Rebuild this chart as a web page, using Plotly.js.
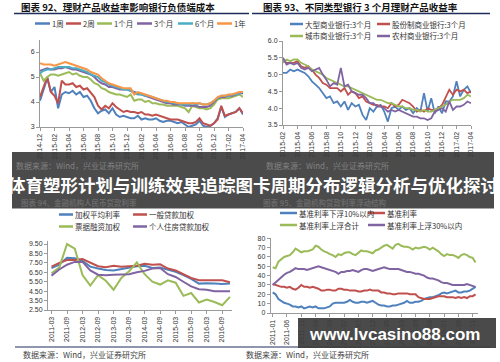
<!DOCTYPE html>
<html><head><meta charset="utf-8">
<script src="https://cdn.plot.ly/plotly-3.0.1.min.js"></script>
<style>html,body{margin:0;padding:0;background:#fff}#chart{width:500px;height:362px}</style>
</head><body><div id="chart"></div>
<script>
// ---------- Chart 1: 理财产品收益率 (semi-monthly samples from 2014-12) ----------
const c1Names = ['1周','2周','1个月','3个月','6个月','1年'];
const c1Colors = ['#4F81BD','#C0504D','#9BBB59','#8064A2','#4BACC6','#F79646'];
const c1Ticks = ['2014-12','2015-02','2015-04','2015-06','2015-08','2015-10','2015-12','2016-02','2016-04','2016-06','2016-08','2016-10','2016-12','2017-02','2017-04'];
const c1Step = 0.5; // months per sample
const c1W1 = [4.05,4.5,4.95,4.4,4.6,3.75,4.3,4.4,4.35,4.45,4.3,4.4,4.2,4.25,4.05,3.75,3.55,3.65,3.7,3.55,3.75,3.5,3.4,3.45,3.4,3.35,3.35,3.45,3.3,3.35,3.3,3.3,3.35,3.25,3.2,3.25,3.25,3.2,3.15,3.2,3.1,3.0,3.05,3.1,3.25,3.05,3.0,3.05,3.15,3.35,3.8,3.4,3.5,3.55,3.6,3.75,3.5];
const c1W2 = [4.2,4.6,5.0,4.4,4.25,3.95,4.85,4.7,4.7,4.75,4.6,4.65,4.5,4.55,4.35,4.2,3.85,3.7,3.85,3.75,3.95,3.8,3.7,3.6,3.65,3.6,3.6,3.55,3.6,3.5,3.5,3.45,3.5,3.45,3.4,3.35,3.3,3.3,3.3,3.25,3.2,3.15,3.15,3.2,3.35,3.15,3.1,3.05,3.15,3.3,3.85,3.45,3.5,3.55,3.6,3.75,3.55];
const c1M1 = [5.15,4.85,5.0,5.1,5.1,5.05,5.1,5.15,5.2,5.1,5.15,5.05,5.0,5.0,4.9,4.75,4.7,4.55,4.5,4.4,4.35,4.3,4.3,4.25,4.2,4.3,4.05,4.1,4.1,4.0,4.05,3.95,3.95,3.9,3.9,3.85,3.85,3.85,3.85,3.8,3.75,3.6,3.85,3.8,3.75,3.75,3.7,3.75,3.9,4.1,4.15,4.15,4.15,4.2,4.25,4.3,4.2];
const c1M3 = [5.25,5.3,5.35,5.3,5.3,5.35,5.35,5.4,5.35,5.3,5.3,5.25,5.2,5.15,5.1,5.0,4.85,4.75,4.7,4.6,4.6,4.55,4.5,4.5,4.5,4.45,4.4,4.35,4.3,4.25,4.2,4.15,4.1,4.05,4.0,3.95,3.95,3.9,3.9,3.9,3.85,3.85,3.85,3.85,3.8,3.8,3.8,3.85,4.0,4.15,4.2,4.2,4.25,4.25,4.3,4.35,4.35];
const c1M6 = [5.15,5.25,5.3,5.3,5.35,5.4,5.4,5.4,5.4,5.35,5.35,5.3,5.25,5.2,5.1,5.05,5.0,4.85,4.8,4.7,4.65,4.6,4.55,4.5,4.5,4.45,4.35,4.3,4.3,4.25,4.25,4.2,4.15,4.1,4.05,4.0,4.0,3.95,3.95,3.9,3.9,3.9,3.95,3.9,3.95,3.9,3.9,3.95,4.05,4.15,4.25,4.25,4.25,4.3,4.3,4.35,4.4];
const c1Y1 = [5.55,5.5,5.5,5.5,5.45,5.5,5.55,5.6,5.55,5.5,5.45,5.4,5.35,5.3,5.2,5.15,5.1,4.95,4.85,4.75,4.7,4.65,4.6,4.55,4.55,4.55,4.3,4.4,4.35,4.3,4.25,4.2,4.15,4.1,4.05,4.05,4.0,4.0,3.95,3.95,3.95,3.95,3.95,3.95,3.95,3.9,3.9,3.95,4.05,4.2,4.25,4.25,4.3,4.3,4.35,4.4,4.4];
const c1Series = [c1W1,c1W2,c1M1,c1M3,c1M6,c1Y1];

// ---------- Chart 2: 不同类型银行3个月理财产品收益率 (semi-monthly from 2015-02) ----------
const c2Names = ['大型商业银行:3个月','股份制商业银行:3个月','城市商业银行:3个月','农村商业银行:3个月'];
const c2Colors = ['#4F81BD','#C0504D','#9BBB59','#8064A2'];
const c2Ticks = ['2015-02','2015-04','2015-06','2015-08','2015-10','2015-12','2016-02','2016-04','2016-06','2016-08','2016-10','2016-12','2017-02','2017-04'];
const c2Step = 0.5;
const c2Big = [5.05,5.05,5.15,5.1,5.15,5.1,5.05,4.95,4.8,4.7,4.6,4.45,4.3,4.35,4.15,4.2,4.05,4.2,3.95,4.15,4.05,4.1,3.8,3.65,4.0,3.9,4.05,4.1,3.9,3.6,4.0,4.05,3.95,4.05,3.95,4.0,3.85,4.0,3.9,4.45,3.9,4.3,3.85,4.05,3.85,4.2,4.2,4.35,4.8,4.35,4.55,4.65,4.45];
const c2Joint = [5.4,5.35,5.35,5.35,5.4,5.25,5.2,5.25,5.15,5.0,4.9,4.75,4.7,4.6,4.6,4.6,4.5,4.6,4.4,4.5,4.45,4.3,4.35,4.2,4.15,4.1,4.1,4.05,4.05,4.0,4.15,4.05,4.1,4.25,4.2,4.15,4.05,3.9,3.95,3.9,4.0,3.95,3.95,4.0,4.1,4.35,4.55,4.4,4.55,4.5,4.55,4.45,4.5];
const c2City = [5.35,5.45,5.4,5.45,5.45,5.35,5.3,5.25,5.15,5.1,5.05,5.0,4.9,4.85,4.8,4.75,4.7,4.65,4.65,4.6,4.55,4.5,4.45,4.4,4.35,4.3,4.25,4.25,4.2,4.15,4.15,4.1,4.05,4.05,4.0,4.0,3.95,3.95,3.9,3.95,3.9,3.9,3.95,4.0,4.05,4.1,4.2,4.25,4.25,4.25,4.3,4.4,4.35];
const c2Rural = [5.5,5.3,5.35,5.3,5.35,5.2,5.15,5.2,5.1,5.15,5.2,5.0,4.85,4.65,4.75,4.7,5.2,4.65,4.7,4.5,4.45,4.4,4.4,4.3,4.15,4.15,4.05,4.05,4.0,3.9,3.95,3.9,3.95,3.9,3.85,3.8,3.75,3.75,3.7,3.7,3.65,3.7,3.9,3.95,4.0,3.9,4.2,3.95,4.05,4.05,4.1,4.2,4.15];
const c2Series = [c2Big,c2Joint,c2City,c2Rural];

// ---------- Chart 3: 金融机构人民币贷款利率 (quarterly) ----------
const c3Names = ['加权平均利率','一般贷款加权','票据融资加权','个人住房贷款加权'];
const c3Colors = ['#4F81BD','#C0504D','#9BBB59','#8064A2'];
const c3Quarters = ['2011-03','2011-06','2011-09','2011-12','2012-03','2012-06','2012-09','2012-12','2013-03','2013-06','2013-09','2013-12','2014-03','2014-06','2014-09','2014-12','2015-03','2015-06','2015-09','2015-12','2016-03','2016-06','2016-09','2016-12'];
const c3Avg = [6.95,7.3,8.05,8.0,7.7,7.1,6.9,6.75,6.7,6.85,7.0,7.15,7.2,6.95,7.0,6.75,6.55,6.2,5.8,5.3,5.35,5.3,5.25,5.3];
const c3General = [7.1,7.5,7.8,7.8,7.9,7.5,7.15,7.05,7.2,7.1,7.15,7.2,7.4,7.3,7.35,6.9,6.7,6.3,5.9,5.65,5.65,5.6,5.65,5.45];
const c3Bill = [6.4,7.0,9.5,9.0,6.2,5.1,6.2,5.6,4.65,5.9,6.6,7.55,6.3,5.5,5.2,5.65,5.4,4.0,4.3,3.3,3.6,3.35,3.0,3.9];
const c3House = [6.15,6.8,7.3,7.6,7.6,6.7,6.25,6.2,6.25,6.25,6.3,6.5,6.65,6.9,6.95,6.3,6.0,5.5,5.0,4.7,4.65,4.5,4.5,4.5];
const c3Series = [c3Avg,c3General,c3Bill,c3House];

// ---------- Chart 4: 金融机构贷款利率浮动结构 (monthly from 2011-01, %) ----------
const c4Names = ['基准利率下浮10%以内','基准利率','基准利率上浮合计','基准利率上浮30%以内'];
const c4Colors = ['#4F81BD','#C0504D','#9BBB59','#8064A2'];
const c4Ticks = ['2011-01','2011-06','2011-11','2012-04','2012-09','2013-02','2013-07','2013-12','2014-05','2014-10','2015-03','2015-08','2016-01','2016-06','2016-11'];
const c4TickEvery = 5; // months between labels
const c4Down = [22,20,15,13,11,10,9,7,7,6,7,5, 6,7,6,7,5,5,5,6,7,10,11,11, 11,11,12,14,12,11,11,12,12,11,12,13, 11,9,8,8,7,7,8,8,9,10,11,13, 11,11,12,12,13,15,16,17,17,18,19,21, 22,21,22,23,24,22,22,23,23,24,26,28];
const c4Base = [31,30,29,28,28,27,28,26,25,27,30,28, 28,27,28,27,26,24,24,25,25,24,24,26, 26,25,25,24,24,24,23,23,24,24,25,24, 24,24,22,22,21,21,20,20,21,21,21,21, 20,20,20,17,16,15,15,15,16,17,18,18, 18,17,17,17,16,17,16,17,16,18,18,20];
const c4UpAll = [49,48,55,58,60,61,62,65,69,67,65,66, 66,67,68,72,71,68,66,65,63,62,60,63, 62,64,65,65,63,62,65,67,66,66,65,64, 67,68,70,72,73,71,69,73,74,72,71,71, 70,68,70,69,70,71,70,68,70,68,66,63, 61,63,62,62,61,59,62,63,62,60,59,54];
const c4Up30 = [30,33,36,39,41,43,44,46,48,47,47,47, 46,47,48,49,50,49,48,47,46,45,44,42, 44,44,45,45,46,45,44,46,47,47,46,45, 46,47,48,49,48,47,47,47,47,46,45,44, 44,43,42,42,41,40,38,37,37,36,35,33, 32,32,31,30,30,30,30,30,31,30,29,28];
const c4Series = [c4Down,c4Base,c4UpAll,c4Up30];

// ---------- texts ----------
const titles = ['图表 92、理财产品收益率影响银行负债端成本','图表 93、不同类型银行 3 个月理财产品收益率','图表 94、金融机构人民币贷款利率','图表 95、金融机构贷款利率浮动结构'];
const sourceText = '数据来源：Wind，兴业证券研究所';
const bannerText = '体育塑形计划与训练效果追踪图卡周期分布逻辑分析与优化探讨';
const watermarkText = 'www.lvcasino88.com';

// ---------- helpers ----------
const W = 500, H = 362;
const px = x => x / W;
const py = y => 1 - y / H;
const CJK = '"Noto Sans CJK SC", sans-serif';
const LAT = '"Liberation Sans", Arial, sans-serif';

const traces = [];
c1Series.forEach((s, k) => traces.push({type:'scatter', mode:'lines', name:c1Names[k], x:s.map((_, i) => i * c1Step), y:s, xaxis:'x', yaxis:'y', line:{color:c1Colors[k], width:2}}));
c2Series.forEach((s, k) => traces.push({type:'scatter', mode:'lines', name:c2Names[k], x:s.map((_, i) => i * c2Step), y:s, xaxis:'x2', yaxis:'y2', line:{color:c2Colors[k], width:1.8}}));
c3Series.forEach((s, k) => traces.push({type:'scatter', mode:'lines', name:c3Names[k], x:c3Quarters, y:s, xaxis:'x3', yaxis:'y3', line:{color:c3Colors[k], width:2}}));
c4Series.forEach((s, k) => traces.push({type:'scatter', mode:'lines', name:c4Names[k], x:s.map((_, i) => i), y:s, xaxis:'x4', yaxis:'y4', line:{color:c4Colors[k], width:2}}));

const baseAxis = {showline:true, linecolor:'#9a9a9a', linewidth:1, ticks:'outside', ticklen:3, tickcolor:'#9a9a9a', showgrid:false, zeroline:false, tickfont:{family:LAT, size:7, color:'#333'}, fixedrange:true};

const layout = {
  width:W, height:H, margin:{l:0, r:0, t:0, b:0}, paper_bgcolor:'#fff', plot_bgcolor:'rgba(0,0,0,0)', showlegend:false,
  xaxis: Object.assign({}, baseAxis, {domain:[px(40), px(243)], range:[0, 28], anchor:'y', tickmode:'array', tickvals:c1Ticks.map((_, i) => i * 2), ticktext:c1Ticks, tickangle:-90}),
  yaxis: Object.assign({}, baseAxis, {domain:[py(127), py(39.5)], range:[3, 6.5], anchor:'x', tickmode:'array', tickvals:[3,4,5,6]}),
  xaxis2: Object.assign({}, baseAxis, {domain:[px(283), px(471)], range:[0, 26], anchor:'y2', tickmode:'array', tickvals:c2Ticks.map((_, i) => i * 2), ticktext:c2Ticks, tickangle:-90}),
  yaxis2: Object.assign({}, baseAxis, {domain:[py(125), py(41)], range:[3.5, 6.0], anchor:'x2', dtick:0.5, tick0:3.5, tickformat:'.1f'}),
  xaxis3: Object.assign({}, baseAxis, {domain:[px(48), px(232.3)], type:'category', range:[-0.45, 23.3], anchor:'y3', tickangle:-90}),
  yaxis3: Object.assign({}, baseAxis, {domain:[py(310), py(241.2)], range:[2.5, 9.8], anchor:'x3', tickmode:'array', tickvals:[2.5,3.5,4.5,5.5,6.5,7.5,8.5,9.5], tickformat:'.2f'}),
  xaxis4: Object.assign({}, baseAxis, {domain:[px(270.7), px(478.4)], range:[-0.7, 72], anchor:'y4', tickmode:'array', tickvals:c4Ticks.map((_, i) => i * c4TickEvery), ticktext:c4Ticks, tickangle:-90}),
  yaxis4: Object.assign({}, baseAxis, {domain:[py(313), py(238.3)], range:[0, 80], anchor:'x4', dtick:10}),
  shapes:[], annotations:[]
};

function rule(x0, x1, y, color, w) {
  layout.shapes.push({type:'line', xref:'paper', yref:'paper', x0:px(x0), x1:px(x1), y0:py(y), y1:py(y), line:{color:color, width:w}});
}
function text(x, y, t, opts) {
  layout.annotations.push(Object.assign({xref:'paper', yref:'paper', x:px(x), y:py(y), text:t, showarrow:false, xanchor:'left', yanchor:'middle', borderpad:0, font:{family:CJK, size:8, color:'#333'}}, opts || {}));
}
function legendItem(x0, x1, y, name, color) {
  rule(x0, x1, y, color, 2.5);
  text(x1 + 1, y, name, {font:{family:CJK, size:7.5, color:'#333'}});
}

// titles and rules
text(20, 7, titles[0], {font:{family:CJK, size:9.5, color:'#111', weight:'bold'}});
text(262, 7, titles[1], {font:{family:CJK, size:9.5, color:'#111', weight:'bold'}});
rule(14, 249, 13.5, '#1F2D5A', 1.5);
rule(252, 490, 13.5, '#1F2D5A', 1.5);

// legends chart 1
const c1LegX = [35, 66, 97, 137, 178, 217];
c1Names.forEach((n, k) => legendItem(c1LegX[k], c1LegX[k] + 15, 23.5, n, c1Colors[k]));
// legends chart 2
const c2LegPos = [[290, 24], [377, 24], [290, 36], [377, 36]];
c2Names.forEach((n, k) => legendItem(c2LegPos[k][0], c2LegPos[k][0] + 13, c2LegPos[k][1], n, c2Colors[k]));
// legends chart 3
const c3LegPos = [[59, 214.5], [133, 214.5], [59, 226.5], [133, 226.5]];
c3Names.forEach((n, k) => legendItem(c3LegPos[k][0], c3LegPos[k][0] + 14, c3LegPos[k][1], n, c3Colors[k]));
// legends chart 4
const c4LegPos = [[280, 213], [368, 213], [280, 225], [368, 225]];
c4Names.forEach((n, k) => legendItem(c4LegPos[k][0], c4LegPos[k][0] + 17, c4LegPos[k][1], n, c4Colors[k]));

// bottom sources and rules
rule(15, 250, 347, '#1F2D5A', 1.2);
rule(250, 490, 347, '#1F2D5A', 1.2);
text(22, 354.5, sourceText, {font:{family:CJK, size:8, color:'#444'}});
text(245, 354.5, sourceText, {font:{family:CJK, size:8, color:'#444'}});

// banner (covers the gap between top and bottom charts)
layout.shapes.push({type:'rect', xref:'paper', yref:'paper', x0:px(12), x1:px(494), y0:py(208.5), y1:py(152), fillcolor:'rgba(55,55,55,0.9)', line:{width:0}, layer:'above'});
text(15, 165, sourceText, {font:{family:CJK, size:8, color:'rgba(150,150,150,0.75)'}});
text(265, 165, sourceText, {font:{family:CJK, size:8, color:'rgba(150,150,150,0.75)'}});
text(20, 203, titles[2], {font:{family:CJK, size:7.5, color:'rgba(120,120,120,0.7)', weight:'bold'}});
text(262, 203, titles[3], {font:{family:CJK, size:7.5, color:'rgba(120,120,120,0.7)', weight:'bold'}});
text(253, 184.5, bannerText, {xanchor:'center', font:{family:CJK, size:17.5, color:'#fff', weight:'bold'}});

// watermark box
layout.shapes.push({type:'rect', xref:'paper', yref:'paper', x0:px(298), x1:px(496), y0:py(348), y1:py(318), fillcolor:'rgba(60,60,60,0.93)', line:{width:0}, layer:'above'});
text(394, 334, watermarkText, {xanchor:'center', font:{family:LAT, size:17, color:'#fff', weight:'bold'}});

Plotly.newPlot('chart', traces, layout, {staticPlot:true, displayModeBar:false});
</script></body></html>
